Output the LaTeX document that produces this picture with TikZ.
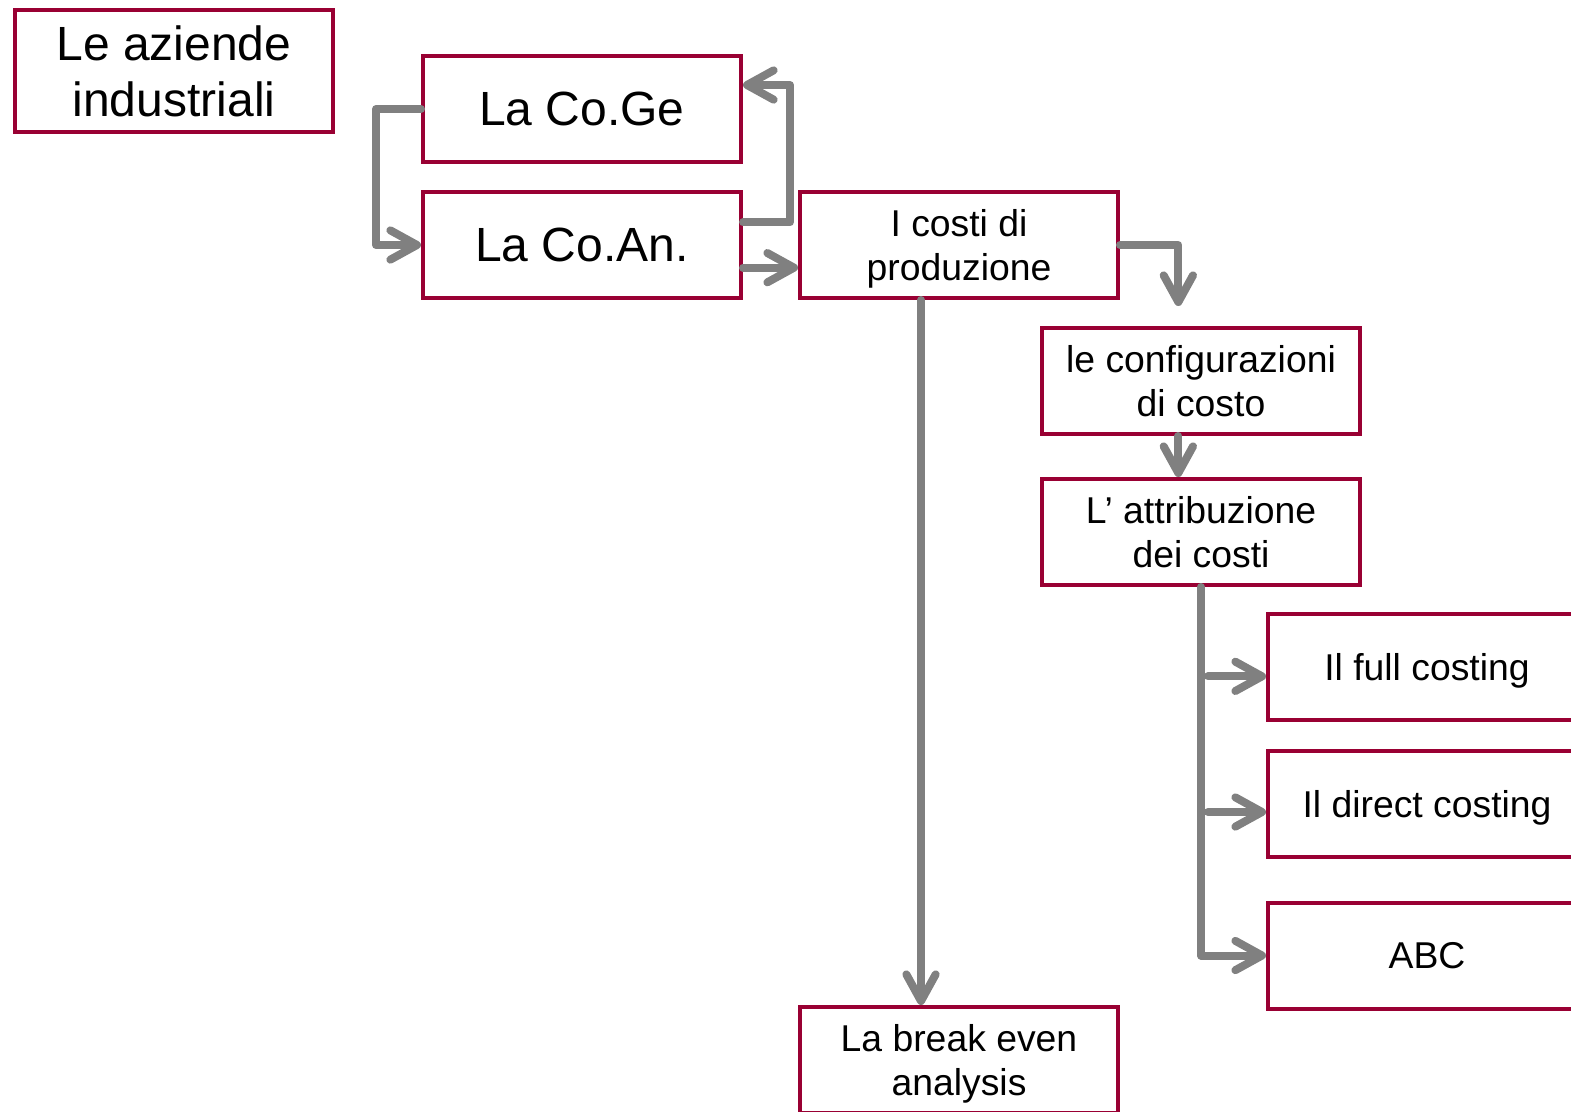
\documentclass[tikz,border=0pt]{standalone}
\usepackage{fontspec}
\setmainfont{Liberation Sans}
\usetikzlibrary{arrows.meta}

\definecolor{boxred}{RGB}{153,0,51}
\definecolor{linkgray}{RGB}{128,128,128}

\tikzset{every picture/.style={line width=0.75pt}}
\tikzset{
  box/.style={draw=boxred, line width=3pt, fill=white, inner sep=0pt, align=center,
    minimum width=238.5pt, minimum height=79.5pt},
  bigtext/.style={font=\fontsize{36}{42}\selectfont},
  smalltext/.style={font=\fontsize{28}{33}\selectfont, text depth=0pt},
  link/.style={draw=linkgray, line width=6pt, line cap=round, line join=round,
    -{Straight Barb[length=20pt,width=22pt,round]}}
}

\begin{document}
\begin{tikzpicture}[x=0.75pt,y=0.75pt,yscale=-1,xscale=1]
\clip (0,0) rectangle (1571,1111);

% Text Node
\node [box, bigtext, minimum height=91.5pt] (aziende) at (174,71) {Le aziende\\industriali};
% Text Node
\node [box, bigtext] (coge) at (582,109) {La Co.Ge};
% Text Node
\node [box, bigtext] (coan) at (582,245) {La Co.An.};
% Text Node
\node [box, smalltext] (costi) at (959,245) {I costi di\\produzione};
% Text Node
\node [box, smalltext] (config) at (1201,381) {le configurazioni\\di costo};
% Text Node
\node [box, smalltext] (attrib) at (1201,532) {L’ attribuzione\\dei costi};
% Text Node
\node [box, smalltext] (full) at (1427,667) {Il full costing};
% Text Node
\node [box, smalltext] (direct) at (1427,804) {Il direct costing};
% Text Node
\node [box, smalltext] (abc) at (1427,955.5) {ABC};
% Text Node
\node [box, smalltext] (breakeven) at (959,1060) {La break even\\analysis};

%Straight Lines
\draw [link] (coge.west) -- ++(-45,0) |- (coan.west);
%Straight Lines
\draw [link] ([yshift=-17pt]coan.east) -- ++(47,0) |- ([yshift=-18pt]coge.east);
%Straight Lines
\draw [link] ([yshift=17pt]coan.east) -- ([yshift=17pt]costi.west);
%Straight Lines
\draw [link] (costi.east) -| ([xshift=-17pt,yshift=-15pt]config.north);
%Straight Lines
\draw [link] ([xshift=-17pt]config.south) -- ([xshift=-17pt]attrib.north);
%Straight Lines
\draw [link] ([xshift=-28.5pt]costi.south) -- ([xshift=-28.5pt]breakeven.north);
%Straight Lines
\draw [link] (attrib.south) |- (abc.west);
%Straight Lines
\draw [link] ([xshift=-43.5pt,yshift=7pt]full.west) -- ([yshift=7pt]full.west);
%Straight Lines
\draw [link] ([xshift=-43.5pt,yshift=6pt]direct.west) -- ([yshift=6pt]direct.west);

\end{tikzpicture}
\end{document}
